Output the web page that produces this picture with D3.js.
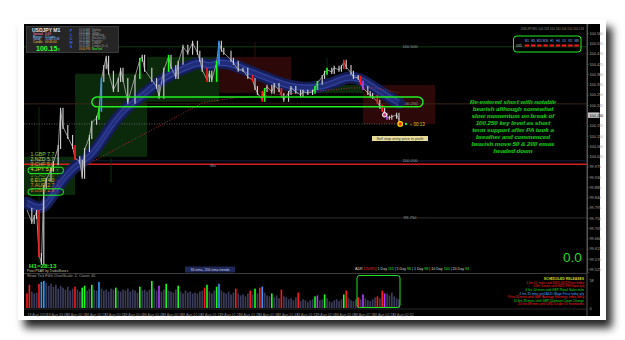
<!DOCTYPE html>
<html>
<head>
<meta charset="utf-8">
<script src="https://cdn.jsdelivr.net/npm/d3@7"></script>
<style>
  html, body { margin: 0; padding: 0; background: #fff; }
  svg { display: block; font-family: "Liberation Sans", Arial, sans-serif; }
</style>
</head>
<body>
<svg id="chart" width="625" height="340"></svg>
<script>
// USDJPY M1 — closes (bar index -> price)
const barIdx = [0,2,3,4,5,6,7,8,10,11, 13,14,15,17,19,20,22,23,24,26, 27,29,30,31,32,33,34,36,38,39,
  40,42,45,47,48,49,52,54,55,57, 59,60,62,63,65,67,69,71,72,73, 75,76,77,79,80,81,82,85,86,88,
  90,92,94,95,96,98,99,100,102,103, 105,106,107,109,110,112,114,115,117,119, 120,121,123,124,125,127,128,130,131,132,
  133,135,136,138,139,140,142,143,144,146, 147,148,149,150,151,152,154,155];
const closes = [99.785,99.732,99.754,99.776,99.588,99.553,99.886,99.917,99.961,99.991,
  100.061,100.224,100.149,100.105,100.061,100.013,99.996,99.930,100.048,100.105,
  100.167,100.189,100.224,100.355,100.412,100.452,100.386,100.311,100.355,100.399,
  100.355,100.259,100.368,100.443,100.456,100.399,100.355,100.325,100.281,100.399,
  100.456,100.412,100.368,100.430,100.500,100.474,100.518,100.474,100.443,100.399,
  100.355,100.386,100.355,100.430,100.518,100.487,100.474,100.443,100.430,100.399,
  100.399,100.368,100.355,100.320,100.298,100.268,100.311,100.325,100.303,100.333,
  100.311,100.289,100.268,100.298,100.320,100.303,100.289,100.303,100.298,100.303,
  100.320,100.342,100.368,100.386,100.399,100.390,100.408,100.399,100.412,100.434,
  100.412,100.386,100.368,100.364,100.342,100.320,100.298,100.289,100.281,100.259,
  100.237,100.224,100.202,100.189,100.189,100.193,100.202,100.180];
// signal-coloured candles (r red, g green, b blue, p purple), rest are grey
const candleColors = {0:'r',5:'r',20:'r',30:'g',31:'b',47:'g',59:'g',75:'r',79:'g',80:'b',94:'r',98:'r',
  99:'g',106:'r',120:'g',121:'g',125:'g',132:'r',139:'r',140:'p',146:'r',148:'r',150:'p'};

// 50 ema ribbon and 200 ema (dotted)
const ema50Idx = [0,7,12,20,27,33,40,48,54,61,68,72,76,80,86,93,100,107,114,121,128,133,138,143,148,154,155];
const ema50 = [99.816,99.776,99.882,99.982,100.018,100.123,100.224,100.285,100.342,100.386,100.417,100.434,100.412,
  100.434,100.425,100.390,100.364,100.333,100.320,100.320,100.342,100.368,100.364,100.333,100.298,100.259,100.254];
const ema200Idx = [24,73,86,114,135,145,155];
const ema200 = [99.978,100.254,100.276,100.298,100.320,100.320,100.298];

// tick volume per bar
const volumes = [30,48,34,30,32,50,54,56,52,46, 50,44,48,40,46,42,38,44,36,40, 44,38,34,42,46,36,40,48,38,36,
  54,40,36,38,34,40,38,42,36,34, 38,36,40,34,38,36,32,44,36,38, 34,38,56,40,36,46,34,38,50,36,
  34,32,38,46,34,30,36,32,34,30, 32,30,34,36,42,48,34,30,36,44, 50,36,32,30,34,28,32,40,30,26,
  28,24,30,36,28,40,30,42,44,32, 26,24,30,22,26,20,38,24,22,18, 20,16,22,32,14,18,16,12,16,18,
  24,26,16,18,28,20,14,12,16,18, 14,18,28,36,20,16,14,18,22,18, 28,20,16,14,18,22,24,20,36,30,
  30,26,32,24,20,18];
const volColors = {0:'r',1:'r',5:'r',6:'b',7:'b',20:'r',23:'g',24:'g',27:'g',30:'b',37:'g',47:'g',52:'g',55:'p',
  58:'g',63:'g',74:'r',75:'g',79:'g',80:'b',87:'r',93:'r',95:'g',97:'r',98:'b',102:'g',106:'r',113:'r',
  120:'g',121:'p',124:'g',132:'g',133:'r',138:'r',140:'p',146:'r',148:'r',149:'p'};

// session boxes: [startIdx, endIdx, top price, bottom price, kind]
const sessionBoxes = [
  [-2, 20, 100.018, 99.851, 'g'],
  [20, 50, 100.382, 100.018, 'g'],
  [50, 80, 100.456, 100.259, 'g'],
  [80, 110, 100.456, 100.298, 'r'],
  [110, 140, 100.333, 100.298, 'g'],
  [140, 170, 100.333, 100.162, 'r']
];
const keyLevelBox = [27, 165, 100.280, 100.237];
const levelLines = [100.500, 100.250, 100.000, 99.750];
const redLine = 99.985;
const bidPrice = 100.162;
const bidTick = 100.200;

const priceTicks = [100.560,100.515,100.470,100.425,100.380,100.335,100.290,100.245,100.200,100.155,100.110,100.065,
  100.020,99.975,99.930,99.885,99.840,99.795,99.750,99.705,99.660,99.615,99.570,99.525];
const timeTickIdx = [0,8,16,24,32,40,48,56,64,72,80,88,96,104,112,120,128,136,144,152];
const timeLabels = ['18 Aug 2016','18 Aug 00:08','18 Aug 00:16','18 Aug 00:24','18 Aug 00:32','18 Aug 00:40',
  '18 Aug 00:48','18 Aug 00:56','18 Aug 01:04','18 Aug 01:12','18 Aug 01:20','18 Aug 01:28','18 Aug 01:36',
  '18 Aug 01:44','18 Aug 01:52','18 Aug 02:00','18 Aug 02:08','18 Aug 02:16','18 Aug 02:24','18 Aug 02:32'];

// side panels
const ccyNames = ['1.GBP','2.NZD','3.CHF','4.JPY','5.CAD','6.EUR','7.AUD','8.USD'];
const ccyValues = [7.7, 5.7, 5.0, 5.0, 5.0, 4.0, 2.7, 2.6];
const ccyTrend = [-1, 1, 1, 1, 1, -1, -1, -1];
const sessTimes = ['02:40 AM','03:40 AM','03:40 AM','05:40 AM','06:40 AM','07:40 AM','08:40 AM','03:40 PM'];
const sessCities = ['Sydney','Tokyo','HongKong','Moscow (D)','Frankfurt','London','London (D+1)','NewYork'];
const timeframes = ['M1','M5','M15','M30','H1','H4','D1','W1','MN'];
const releases = [
  ['1 hrs 51 mins until NZD-GDT Price Index', 'r'],
  ['1 hrs 5 mins until NZD-PPI Input q/q', 'r'],
  ['4 hrs 10 mins until GBP-Retail Sales m/m', 'g'],
  ['4 hrs 35 mins until AUD-Wage Price Index q/q', 'b'],
  ['9 hrs 35 mins until GBP-Average Earnings Index 3m/y', 'r'],
  ['10 hrs 35 mins until GBP-Claimant Count Change', 'g'],
  ['20 hrs 38 mins until USD-Crude Oil Inventories', 'r']
];
const noteLines = ['Re-entered short with notable','bearish although somewhat','slow momentum on break of',
  '100.250 key level as short','term support after PA took a','breather and commenced',
  'bearish move 50 & 200 emas','headed down'];

const COL = { r: '#ff1a1a', g: '#19ff19', b: '#2f9bff', p: '#b040ff', w: '#d6d6d6' };

const svg = d3.select('#chart');

// ---- frame with drop shadow
const defs = svg.append('defs');
const flt = defs.append('filter').attr('id', 'shadow')
  .attr('x', '-5%').attr('y', '-5%').attr('width', '115%').attr('height', '125%');
flt.append('feDropShadow').attr('dx', 6).attr('dy', 8).attr('stdDeviation', 4)
  .attr('flood-color', '#000').attr('flood-opacity', 0.85);
defs.append('clipPath').attr('id', 'mainClip')
  .append('rect').attr('x', 24).attr('y', 24).attr('width', 563).attr('height', 249);
defs.append('clipPath').attr('id', 'volClip')
  .append('rect').attr('x', 24).attr('y', 274).attr('width', 563).attr('height', 36);

svg.append('rect').attr('x', 18).attr('y', 19).attr('width', 588).attr('height', 301)
  .attr('fill', '#fff').attr('filter', 'url(#shadow)');
svg.append('rect').attr('x', 24).attr('y', 24).attr('width', 576).attr('height', 292).attr('fill', '#000');

// ---- scales
const x = d3.scaleLinear().domain([0, 240]).range([27, 603]);
const y = d3.scaleLinear().domain([99.513, 100.6]).range([272, 24]);
const vy = d3.scaleLinear().domain([0, 64]).range([308, 277]);

const main = svg.append('g').attr('clip-path', 'url(#mainClip)');

// session boxes
main.selectAll('rect.sess')
  .data(sessionBoxes)
  .join('rect')
  .attr('class', 'sess')
  .attr('x', d => x(d[0])).attr('width', d => x(d[1]) - x(d[0]))
  .attr('y', d => y(d[2])).attr('height', d => y(d[3]) - y(d[2]))
  .attr('fill', d => d[4] === 'g' ? '#0b2a0b' : '#2c0808');

// level lines
main.selectAll('line.lvl')
  .data(levelLines)
  .join('line')
  .attr('x1', 24).attr('x2', 587)
  .attr('y1', d => y(d)).attr('y2', d => y(d))
  .attr('stroke', (d, i) => ['#123a12', '#3a2416', '#1a2440', '#2c2c2c'][i])
  .attr('stroke-width', 1);
main.append('line').attr('x1', 24).attr('x2', 587).attr('y1', y(redLine)).attr('y2', y(redLine))
  .attr('stroke', '#d42020').attr('stroke-width', 1.4);
main.append('line').attr('x1', 24).attr('x2', x(155)).attr('y1', y(bidPrice)).attr('y2', y(bidPrice))
  .attr('stroke', '#777').attr('stroke-width', 0.8).attr('stroke-dasharray', '1,1.5');

// day / session separators
const sepIdx = [5, 35, 95, 125];
main.selectAll('line.sep')
  .data(sepIdx)
  .join('line')
  .attr('x1', d => x(d)).attr('x2', d => x(d))
  .attr('y1', (d, i) => [107, 158, 42, 58][i]).attr('y2', (d, i) => [263, 183, 57, 87][i])
  .attr('stroke', (d, i) => i === 2 ? '#3a1212' : '#123a12').attr('stroke-width', 0.8);

// level labels
main.selectAll('text.lvl')
  .data(levelLines)
  .join('text')
  .attr('x', 410).attr('y', d => y(d) + 1.5)
  .attr('text-anchor', 'middle').attr('font-size', 4.2).attr('fill', '#9a9a9a')
  .text(d => d.toFixed(3));
main.append('text').attr('x', 213).attr('y', y(redLine) + 2.5).attr('text-anchor', 'middle')
  .attr('font-size', 4).attr('fill', '#999').text('Mx');

// 50 ema ribbon
const emaLine = d3.line().x(d => x(d[0])).y(d => y(d[1])).curve(d3.curveBasis);
const ema50Pts = ema50Idx.map((d, i) => [d, ema50[i]]);
main.append('path').attr('d', emaLine(ema50Pts)).attr('fill', 'none')
  .attr('stroke', '#151d55').attr('stroke-width', 12).attr('stroke-linecap', 'round');
main.append('path').attr('d', emaLine(ema50Pts)).attr('fill', 'none')
  .attr('stroke', '#202c78').attr('stroke-width', 7);
[-2.5, 2.5].forEach(off => {
  main.append('path').attr('d', emaLine(ema50Pts)).attr('fill', 'none')
    .attr('transform', `translate(0,${off})`)
    .attr('stroke', '#3a4cb0').attr('stroke-width', 0.8);
});

// 200 ema
main.append('path').attr('d', d3.line().x(d => x(d[0])).y(d => y(d[1]))(ema200Idx.map((d, i) => [d, ema200[i]])))
  .attr('fill', 'none').attr('stroke', '#b0303a').attr('stroke-width', 0.9).attr('stroke-dasharray', '1,1.6');

// price
const pricePts = barIdx.map((d, i) => [d, closes[i]]);
main.append('path').attr('d', d3.line().x(d => x(d[0])).y(d => y(d[1]))(pricePts))
  .attr('fill', 'none').attr('stroke', '#a0a0a0').attr('stroke-width', 0.9);
main.selectAll('line.bar')
  .data(pricePts.slice(1))
  .join('line')
  .attr('x1', d => x(d[0])).attr('x2', d => x(d[0]))
  .attr('y1', (d, i) => Math.min(y(pricePts[i][1]), y(d[1])) - 2)
  .attr('y2', (d, i) => Math.max(y(pricePts[i][1]), y(d[1])) + 2)
  .attr('stroke', d => COL[candleColors[d[0]] || 'w'])
  .attr('stroke-width', d => candleColors[d[0]] ? 1.6 : 1.1);

// key level box
main.append('rect')
  .attr('x', x(keyLevelBox[0])).attr('width', x(keyLevelBox[1]) - x(keyLevelBox[0]))
  .attr('y', y(keyLevelBox[2])).attr('height', y(keyLevelBox[3]) - y(keyLevelBox[2]))
  .attr('rx', 5).attr('fill', 'none').attr('stroke', '#22f022').attr('stroke-width', 1.4);

// trade markers
main.append('circle').attr('cx', x(149)).attr('cy', y(100.202)).attr('r', 2.2)
  .attr('fill', '#d04080').attr('stroke', '#fff').attr('stroke-width', 1);
main.append('circle').attr('cx', x(155.5)).attr('cy', y(bidPrice)).attr('r', 2.3)
  .attr('fill', '#ff2020').attr('stroke', '#ffe000').attr('stroke-width', 1.2);
main.append('rect').attr('x', x(157.5)).attr('y', y(bidPrice) - 1).attr('width', 2).attr('height', 2).attr('fill', '#19ff19');
main.append('text').attr('x', x(159.5)).attr('y', y(bidPrice) + 1.6).attr('font-size', 4.5).attr('fill', '#e8d000')
  .text('\u2248 00:13');
main.append('rect').attr('x', 372).attr('y', 136).attr('width', 56).attr('height', 5).attr('fill', '#e6dc9a');
main.append('text').attr('x', 400).attr('y', 139.8).attr('text-anchor', 'middle').attr('font-size', 3.8)
  .attr('fill', '#333').text('Sell stop entry price in profit');

// ---- volume panel
svg.append('line').attr('x1', 24).attr('x2', 587).attr('y1', 273.5).attr('y2', 273.5).attr('stroke', '#3c3c3c');
svg.append('line').attr('x1', 24).attr('x2', 587).attr('y1', 309).attr('y2', 309).attr('stroke', '#2a2a2a');
const vol = svg.append('g').attr('clip-path', 'url(#volClip)');
vol.selectAll('rect')
  .data(volumes)
  .join('rect')
  .attr('x', (d, i) => x(i) - 0.8).attr('width', (d, i) => volColors[i] ? 1.6 : 1.7)
  .attr('y', d => vy(d)).attr('height', d => vy(0) - vy(d))
  .attr('fill', (d, i) => volColors[i] ? COL[volColors[i]] : '#3a3b58');
svg.append('rect').attr('x', 357).attr('y', 275.5).attr('width', 43).attr('height', 32).attr('rx', 2.5)
  .attr('fill', 'none').attr('stroke', '#22e022').attr('stroke-width', 1);
svg.append('text').attr('x', 27).attr('y', 276.5).attr('font-size', 3.8).attr('fill', '#a0a0a0')
  .text('Show Tick Fifth   ChartScale: 2,  Count: 45');

// ---- axes
svg.append('rect').attr('x', 587.5).attr('y', y(bidTick) - 2.8).attr('width', 12).attr('height', 5.4).attr('fill', '#c8c8c8');
const yAxis = svg.append('g').attr('transform', 'translate(587,0)')
  .call(d3.axisRight(y).tickValues(priceTicks).tickFormat(d3.format('.3f')).tickSize(1.5));
yAxis.select('.domain').attr('stroke', '#555');
yAxis.selectAll('line').attr('stroke', '#666');
yAxis.selectAll('text').attr('font-size', 3.8).attr('x', 2.5)
  .attr('fill', d => d === bidTick ? '#000' : '#a8a8a8');
svg.append('line').attr('x1', 587).attr('x2', 587).attr('y1', 24).attr('y2', 316).attr('stroke', '#555');

const vAxis = svg.append('g').attr('transform', 'translate(587,0)')
  .call(d3.axisRight(vy).tickValues([0, 58]).tickFormat(d3.format('d')).tickSize(0));
vAxis.select('.domain').remove();
vAxis.selectAll('text').attr('font-size', 3.8).attr('fill', '#a8a8a8').attr('x', 2.5);

const xAxis = svg.append('g').attr('transform', 'translate(0,309)')
  .call(d3.axisBottom(x).tickValues(timeTickIdx).tickFormat((d, i) => timeLabels[i]).tickSize(0));
xAxis.select('.domain').remove();
xAxis.selectAll('text').attr('font-size', 3.6).attr('fill', '#8a8a8a').attr('text-anchor', 'start').attr('dy', 4);

// ---- info box (top left)
svg.append('rect').attr('x', 26.5).attr('y', 26.5).attr('width', 92).attr('height', 26)
  .attr('fill', '#252525').attr('stroke', '#555').attr('stroke-width', 0.6);
svg.append('text').attr('x', 32).attr('y', 31.5).attr('font-size', 5).attr('font-weight', 'bold')
  .attr('fill', '#e6e6e6').text('USDJPY   M1');
const infoRows = [['Spread', '0.09', '#ff80c0'], ['Range', '0.5 pips', '#80d0ff'], ['Swap', '-0.44/-0.08', '#9ab8ff'], ['Candle', '00:00:00', '#e8c040']];
infoRows.forEach((r, i) => {
  svg.append('text').attr('x', 33).attr('y', 34.8 + i * 2.7).attr('font-size', 3).attr('fill', r[2]).text(r[0]);
  svg.append('text').attr('x', 45).attr('y', 34.8 + i * 2.7).attr('font-size', 3).attr('fill', r[2]).text(r[1]);
});
svg.append('text').attr('x', 36).attr('y', 50.5).attr('font-size', 7).attr('font-weight', 'bold')
  .attr('fill', '#33ff33').text('100.15');
svg.append('text').attr('x', 57.5).attr('y', 50.5).attr('font-size', 4).attr('fill', '#33ff33').text('3');
['P', 'L', 'O', 'W', 'S'].forEach((c, i) => {
  svg.append('text').attr('x', 71).attr('y', 32 + i * 4).attr('font-size', 3.6).attr('font-weight', 'bold')
    .attr('fill', '#3a5cff').attr('text-anchor', 'middle').text(c);
});
sessTimes.forEach((t, i) => {
  svg.append('text').attr('x', 79).attr('y', 31 + i * 2.65).attr('font-size', 2.6)
    .attr('fill', i === 7 ? '#e0a020' : '#9a9a9a').text(t);
  svg.append('text').attr('x', 92).attr('y', 31 + i * 2.65).attr('font-size', 2.6)
    .attr('fill', i === 7 ? '#33ff33' : '#9a9a9a').text(sessCities[i]);
});

// ---- currency strength list
ccyNames.forEach((n, i) => {
  const yy = 155.5 + i * 5.25;
  const col = ['#8fd040', '#c8c888', '#c0b040', '#e8e020', '#6a7a20', '#d8c820', '#e89020', '#e86a20'][i];
  svg.append('text').attr('x', 30.5).attr('y', yy).attr('font-size', 5.2).attr('fill', col)
    .text(`${n} ${ccyValues[i].toFixed(1)}`);
  svg.append('text').attr('x', 57.5).attr('y', yy + 0.3).attr('font-size', 5).attr('font-weight', 'bold')
    .attr('text-anchor', 'middle').attr('fill', ccyTrend[i] > 0 ? (i === 4 ? '#2a7a2a' : '#22ee22') : '#ff2020')
    .text(ccyTrend[i] > 0 ? '\u2191' : '\u2193');
});
[[3, 167.2], [7, 188.8]].forEach(b => {
  svg.append('rect').attr('x', 28).attr('y', b[1]).attr('width', 35.5).attr('height', 6.4).attr('rx', 3)
    .attr('fill', 'none').attr('stroke', '#22f022').attr('stroke-width', 1);
});

// ---- bottom left labels
svg.append('text').attr('x', 29).attr('y', 267.5).attr('font-size', 6.2).attr('font-weight', 'bold')
  .attr('fill', '#22ee22').text('H1=28:13');
svg.append('text').attr('x', 27).attr('y', 271.6).attr('font-size', 3.3).attr('fill', '#c8c8a0')
  .text('Pivot PSAR by Trade4hours');
svg.append('rect').attr('x', 185).attr('y', 266.5).attr('width', 50).attr('height', 6).attr('fill', '#1e2858');
svg.append('text').attr('x', 210).attr('y', 270.8).attr('text-anchor', 'middle').attr('font-size', 3.6)
  .attr('fill', '#c8d0f0').text('30 ema, 200 ema trends');

// ADR strip
const adr = svg.append('text').attr('x', 412).attr('y', 269.5).attr('text-anchor', 'middle').attr('font-size', 3.6);
[['ADR ', '#ddd'], ['120/95', '#ff3030'], ['  |  1 Day ', '#ddd'], ['115', '#22ee22'], ['  |  5 Day ', '#ddd'], ['96', '#22ee22'],
 ['  |  1 Day ', '#ddd'], ['98', '#22ee22'], ['  |  10 Day ', '#ddd'], ['100', '#22ee22'], ['  |  20 Day ', '#ddd'], ['94', '#22ee22']]
  .forEach(s => adr.append('tspan').attr('fill', s[1]).text(s[0]));

svg.append('text').attr('x', 572.5).attr('y', 262).attr('text-anchor', 'middle').attr('font-size', 13.5)
  .attr('fill', '#22dd22').text('0.0');

// scheduled releases
svg.append('text').attr('x', 584).attr('y', 280).attr('text-anchor', 'end').attr('font-size', 3.4)
  .attr('font-weight', 'bold').attr('fill', '#d8d820').text('SCHEDULED RELEASES');
releases.forEach((r, i) => {
  svg.append('text').attr('x', 584).attr('y', 283.8 + i * 3.6).attr('text-anchor', 'end').attr('font-size', 3.2)
    .attr('fill', { r: '#ff2020', g: '#22dd22', b: '#50a0ff' }[r[1]]).text(r[0]);
});

// ---- top right strength table
svg.append('rect').attr('x', 513.5).attr('y', 36).attr('width', 67.5).attr('height', 16).attr('rx', 3)
  .attr('fill', 'none').attr('stroke', '#22f022').attr('stroke-width', 1);
timeframes.forEach((t, i) => {
  const cx = 527 + i * 6.2;
  svg.append('text').attr('x', cx).attr('y', 41.5).attr('text-anchor', 'middle').attr('font-size', 2.8)
    .attr('fill', '#8ab4ff').text(t);
  svg.append('rect').attr('x', cx - 2.2).attr('y', 44.5).attr('width', 4.4).attr('height', 2).attr('fill', '#ff1a1a');
});
svg.append('text').attr('x', 516).attr('y', 46.6).attr('font-size', 2.8).attr('fill', '#ccc').text('USD');
svg.append('text').attr('x', 584).attr('y', 29.5).attr('text-anchor', 'end').attr('font-size', 3)
  .attr('fill', '#888').text('USDJPY,M1  100.158 100.160 100.150 100.153');

// ---- trade comment
const note = svg.append('text').attr('text-anchor', 'middle').attr('font-size', 6.1)
  .attr('font-weight', 'bold').attr('font-style', 'italic').attr('fill', '#22ff22')
  .attr('stroke', '#0a4a0a').attr('stroke-width', 0.25);
noteLines.forEach((l, i) => {
  note.append('tspan').attr('x', 513).attr('y', 104 + i * 7).text(l);
});
</script>
</body>
</html>
